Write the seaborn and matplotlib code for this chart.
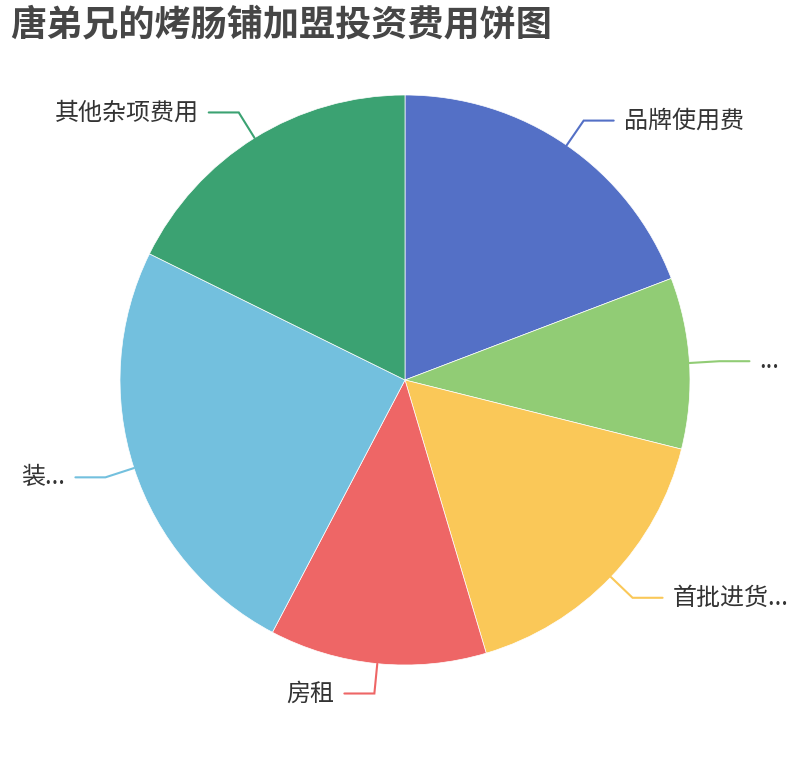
import numpy as np
import matplotlib
matplotlib.use("Agg")
import matplotlib.pyplot as plt
import seaborn as sns

# ==========================================
# DATA
# ==========================================
TITLE = "唐弟兄的烤肠铺加盟投资费用饼图"
labels = ["品牌使用费", "...", "首批进货...", "房租", "装...", "其他杂项费用"]
values = [19.2, 9.7, 16.5, 12.3, 24.6, 17.7]
colors = ["#5470c6", "#91cc75", "#fac858", "#ee6666", "#73c0de", "#3ba272"]

# ==========================================
# STYLE
# ==========================================
sns.set_theme(style="white")
plt.rcParams['font.family'] = ['Noto Sans CJK SC', 'DejaVu Sans']
palette = sns.color_palette(colors)

W, H = 810, 760
fig = plt.figure(figsize=(W / 100, H / 100), dpi=100)
ax = fig.add_axes([0, 0, 1, 1])

# pie centre in pixel coords (y measured from bottom)
cx, cy, R = 405, H - 380, 285
wedges, _ = ax.pie(values, colors=palette, startangle=90, counterclock=False,
                   center=(cx, cy), radius=R, frame=True,
                   wedgeprops=dict(edgecolor="white", linewidth=0.5))
ax.set_xlim(0, W)
ax.set_ylim(0, H)
ax.set_aspect("equal")
ax.axis("off")

# label lines (echarts style: radial segment then horizontal)
for w, lab, col in zip(wedges, labels, colors):
    mid = np.deg2rad((w.theta1 + w.theta2) / 2)
    x0, y0 = cx + R * np.cos(mid), cy + R * np.sin(mid)
    x1, y1 = cx + (R + 30) * np.cos(mid), cy + (R + 30) * np.sin(mid)
    side = 1 if np.cos(mid) >= 0 else -1
    x2 = x1 + side * 30
    ax.plot([x0, x1, x2], [y0, y1, y1], color=col, lw=1.5,
            solid_joinstyle="miter", clip_on=False)
    ax.text(x2 + side * 10, y1, lab, ha="left" if side > 0 else "right",
            va="center", fontsize=17.3, color="#333333")

fig.text(10 / W, 1 - 25 / H, TITLE, fontsize=26, fontweight="bold",
         color="#464646", ha="left", va="center")

fig.savefig("out.png", dpi=100, facecolor="white")
